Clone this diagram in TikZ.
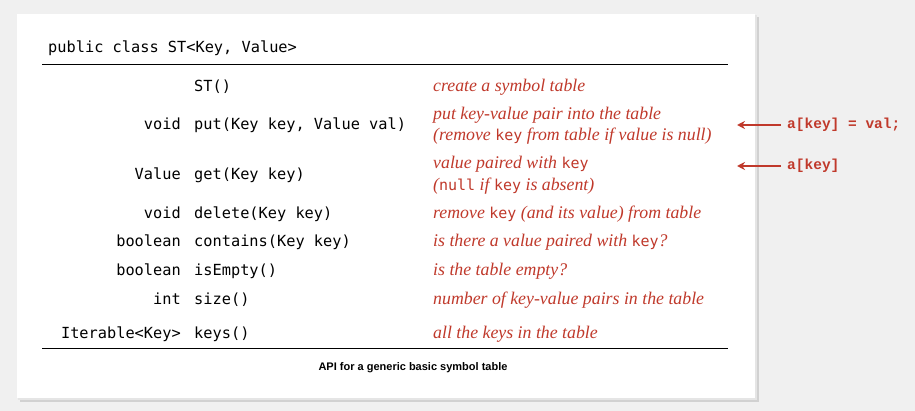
\documentclass[tikz,border=0pt]{standalone}
\usepackage{fontspec}
\usetikzlibrary{arrows.meta}
\setmainfont{Liberation Serif}
\newfontfamily\codefont{DejaVu Sans Mono}
\newfontfamily\anfont{Liberation Mono}
\newfontfamily\capfont{Liberation Sans}
\definecolor{redtxt}{HTML}{C0392B}
\definecolor{bggray}{HTML}{F0F0F0}
\tikzset{
  every node/.style={inner sep=0pt},
  ret/.style={anchor=base east,font=\codefont\fontsize{15.3}{18}\selectfont},
  meth/.style={anchor=base west,font=\codefont\fontsize{15.3}{18}\selectfont},
  desc/.style={anchor=base west,font=\itshape\fontsize{17.8}{20}\selectfont,text=redtxt,align=left},
  ann/.style={anchor=west,font=\anfont\bfseries\fontsize{14.5}{16}\selectfont,text=redtxt},
  arr/.style={draw=redtxt,line width=1.4pt,-{Stealth[length=8pt,width=8pt]}},
}
\newcommand{\kc}[1]{{\upshape\codefont\fontsize{15}{18}\selectfont #1}}
\begin{document}
\begin{tikzpicture}[x=1pt,y=-1pt]
\fill[bggray] (0,0) rectangle (915,411);
\useasboundingbox (0,0) rectangle (915,411);
\fill[black!18] (20,17) rectangle (759,402);
\fill[black!10] (18,15) rectangle (757,400);
\fill[white] (17,14) rectangle (755,398);
\node[meth] (hdr) at (48,53) {public class ST<Key, Value>};
\draw[line width=0.8pt] (42,64) -- (728,64);
\draw[line width=0.8pt] (42,348) -- (728,348);
\node[meth] (m1) at (194,92) {ST()};
\node[desc] (d1) at (433,92) {create a symbol table};
\node[ret] (r2) at (181,130) {void};
\node[meth] (m2) at (194,130) {put(Key key, Value val)};
\node[desc] (d2) at (433,120) {put key-value pair into the table};
\node[desc] (d2b) at (433,141) {(remove \kc{key} from table if value is null)};
\node[ret] (r3) at (181,180) {Value};
\node[meth] (m3) at (194,180) {get(Key key)};
\node[desc] (d3) at (433,169) {value paired with \kc{key}};
\node[desc] (d3b) at (433,191) {(\kc{null} if \kc{key} is absent)};
\node[ret] (r4) at (181,219) {void};
\node[meth] (m4) at (194,219) {delete(Key key)};
\node[desc] (d4) at (433,219) {remove \kc{key} (and its value) from table};
\node[ret] (r5) at (181,247) {boolean};
\node[meth] (m5) at (194,247) {contains(Key key)};
\node[desc] (d5) at (433,247) {is there a value paired with \kc{key}?};
\node[ret] (r6) at (181,276) {boolean};
\node[meth] (m6) at (194,276) {isEmpty()};
\node[desc] (d6) at (433,276) {is the table empty?};
\node[ret] (r7) at (181,305) {int};
\node[meth] (m7) at (194,305) {size()};
\node[desc] (d7) at (433,305) {number of key-value pairs in the table};
\node[ret] (r8) at (181,338) {Iterable<Key>};
\node[meth] (m8) at (194,338) {keys()};
\node[desc] (d8) at (433,338) {all the keys in the table};
\node[font=\capfont\bfseries\fontsize{11}{13}\selectfont] (cap) at (413,368) {API for a generic basic symbol table};
\node[ann] (a1) at (787,125) {a[key] = val;};
\node[ann] (a2) at (787,166) {a[key]};
\coordinate (t1) at (737,125);
\coordinate (t2) at (737,166);
\draw[arr] ([xshift=-6pt]a1.west) -- (t1);
\draw[arr] ([xshift=-6pt]a2.west) -- (t2);
\end{tikzpicture}
\end{document}
